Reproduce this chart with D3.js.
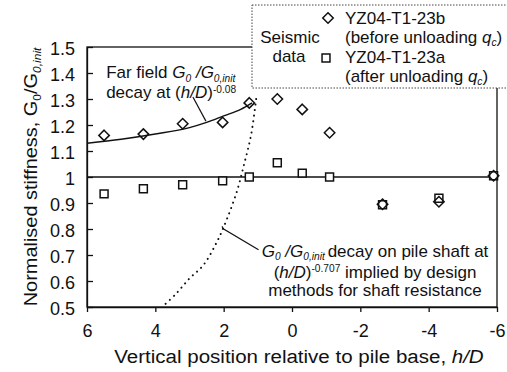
<!DOCTYPE html>
<html>
<head>
<meta charset="utf-8">
<script src="https://cdn.jsdelivr.net/npm/d3@7"></script>
<style>
  body { margin: 0; background: #fff; }
  svg text { font-family: "Liberation Sans", Arial, sans-serif; fill: #111; }
</style>
</head>
<body>
<div id="chart"></div>
<script>
// data
const hOverD = [5.5, 4.35, 3.2, 2.03, 1.25, 0.43, -0.3, -1.1, -2.65, -4.3, -5.9];
const beforeUnloading = [1.16, 1.165, 1.205, 1.21, 1.285, 1.30, 1.26, 1.17, 0.895, 0.905, 1.005]; // YZ04-T1-23b
const afterUnloading = [0.935, 0.955, 0.97, 0.985, 1.0, 1.055, 1.015, 1.0, 0.893, 0.918, 1.005]; // YZ04-T1-23a

// far field decay curve (h/D)^-0.08
const farFieldHD = [6, 5, 4, 3, 2.5, 2, 1.5, 1.17];
const farFieldG = [1.13, 1.145, 1.165, 1.19, 1.21, 1.235, 1.26, 1.285];

// shaft decay curve (h/D)^-0.707
const shaftHD = [1.05, 1.2, 1.4, 1.6, 1.9, 2.2, 2.6, 3.0, 3.4, 3.8];
const shaftG = [1.30, 1.16, 1.05, 0.95, 0.84, 0.75, 0.66, 0.61, 0.55, 0.50];

const xTicks = [6, 4, 2, 0, -2, -4, -6];
const yTicks = [0.5, 0.6, 0.7, 0.8, 0.9, 1, 1.1, 1.2, 1.3, 1.4, 1.5];

const width = 507;
const height = 372;
const margin = { top: 47, right: 10, bottom: 65, left: 87 };

const svg = d3.select("#chart")
    .append("svg")
    .attr("width", width)
    .attr("height", height);

const x = d3.scaleLinear().domain([6, -6]).range([margin.left, width - margin.right]);
const y = d3.scaleLinear().domain([0.5, 1.5]).range([height - margin.bottom, margin.top]);

// writes a line made of plain / italic / sub / super pieces
function rich(sel, parts, size) {
    let shift = 0;
    parts.forEach(p => {
        const want = p.sub ? size * 0.2 : p.sup ? -size * 0.35 : 0;
        const ts = sel.append("tspan").text(p.t).attr("dy", want - shift);
        shift = want;
        if (p.sub || p.sup) ts.attr("font-size", size * 0.6);
        if (p.i) ts.attr("font-style", "italic");
    });
}

// frame
svg.append("rect")
    .attr("x", x(6)).attr("y", y(1.5))
    .attr("width", x(-6) - x(6)).attr("height", y(0.5) - y(1.5))
    .attr("fill", "none").attr("stroke", "#111").attr("stroke-width", 1.3);

// axes
const xAxis = svg.append("g")
    .attr("transform", `translate(0,${y(0.5)})`)
    .call(d3.axisBottom(x).tickValues(xTicks).tickFormat(d => String(d)).tickSize(5).tickSizeOuter(0).tickPadding(12));
const yAxis = svg.append("g")
    .attr("transform", `translate(${x(6)},0)`)
    .call(d3.axisLeft(y).tickValues(yTicks).tickFormat(d => String(d)).tickSize(-6).tickSizeOuter(0).tickPadding(12));
[xAxis, yAxis].forEach(a => {
    a.selectAll("path, line").attr("stroke", "#111").attr("stroke-width", 1.3);
    a.selectAll("text").attr("font-size", 18).style("fill", "#111");
});
yAxis.selectAll("text").attr("dy", "0.42em");

// reference line at 1
svg.append("line")
    .attr("x1", x(6)).attr("x2", x(-6))
    .attr("y1", y(1)).attr("y2", y(1))
    .attr("stroke", "#111").attr("stroke-width", 1.5);

// far field curve
svg.append("path")
    .datum(farFieldHD.map((h, i) => [h, farFieldG[i]]))
    .attr("d", d3.line().x(d => x(d[0])).y(d => y(d[1])).curve(d3.curveMonotoneX))
    .attr("fill", "none").attr("stroke", "#111").attr("stroke-width", 1.5);

// shaft decay curve (dotted)
svg.append("path")
    .datum(shaftHD.map((h, i) => [h, shaftG[i]]))
    .attr("d", d3.line().x(d => x(d[0])).y(d => y(d[1])).curve(d3.curveCatmullRom))
    .attr("fill", "none").attr("stroke", "#111").attr("stroke-width", 2)
    .attr("stroke-linecap", "round").attr("stroke-dasharray", "0.1,5.5");

// markers
const diamond = d3.symbol().type(d3.symbolDiamond2).size(70);
const square = d3.symbol().type(d3.symbolSquare2).size(80);

svg.append("g").selectAll("path")
    .data(hOverD.map((h, i) => [h, afterUnloading[i]]))
    .enter().append("path")
    .attr("transform", d => `translate(${x(d[0])},${y(d[1])})`)
    .attr("d", square)
    .attr("fill", "#fff").attr("stroke", "#111").attr("stroke-width", 1.5);

svg.append("g").selectAll("path")
    .data(hOverD.map((h, i) => [h, beforeUnloading[i]]))
    .enter().append("path")
    .attr("transform", d => `translate(${x(d[0])},${y(d[1])})`)
    .attr("d", diamond)
    .attr("fill", "none").attr("stroke", "#111").attr("stroke-width", 1.5);

// annotation: far field
svg.append("line")
    .attr("x1", x(2.9)).attr("y1", y(1.308))
    .attr("x2", x(2.52)).attr("y2", y(1.215))
    .attr("stroke", "#111").attr("stroke-width", 1.2);
const ff1 = svg.append("text").attr("x", x(5.44)).attr("y", y(1.379)).attr("font-size", 17);
rich(ff1, [{ t: "Far field " }, { t: "G", i: 1 }, { t: "0", sub: 1, i: 1 }, { t: " /", i: 1 }, { t: "G", i: 1 }, { t: "0,init", sub: 1, i: 1 }], 17);
const ff2 = svg.append("text").attr("x", x(5.44)).attr("y", y(1.302)).attr("font-size", 17);
rich(ff2, [{ t: "decay at (" }, { t: "h/D", i: 1 }, { t: ")" }, { t: "-0.08", sup: 1 }], 17);

// annotation: shaft decay
svg.append("path")
    .attr("d", d3.line()([[x(2.05), y(0.81)], [x(2.0), y(0.80)], [x(0.98), y(0.72)]]))
    .attr("fill", "none").attr("stroke", "#111").attr("stroke-width", 1.2);
const sh1 = svg.append("text").attr("x", x(-2.43)).attr("y", y(0.692)).attr("font-size", 17).attr("text-anchor", "middle");
rich(sh1, [{ t: "G", i: 1 }, { t: "0", sub: 1, i: 1 }, { t: " /", i: 1 }, { t: "G", i: 1 }, { t: "0,init ", sub: 1, i: 1 }, { t: "decay on pile shaft at" }], 17);
const sh2 = svg.append("text").attr("x", x(-2.43)).attr("y", y(0.612)).attr("font-size", 17).attr("text-anchor", "middle");
rich(sh2, [{ t: "(" }, { t: "h/D", i: 1 }, { t: ")" }, { t: "-0.707", sup: 1 }, { t: " implied by design" }], 17);
svg.append("text").attr("x", x(-2.43)).attr("y", y(0.544)).attr("font-size", 17).attr("text-anchor", "middle")
    .text("methods for shaft resistance");

// axis titles
const xt = svg.append("text")
    .attr("transform", `translate(299,363) scale(1.08,1)`)
    .attr("text-anchor", "middle").attr("font-size", 19);
rich(xt, [{ t: "Vertical position relative to pile base, " }, { t: "h/D", i: 1 }], 19);

const yt = svg.append("text")
    .attr("transform", `translate(37,177) rotate(-90) scale(1.05,1)`)
    .attr("text-anchor", "middle").attr("font-size", 19);
rich(yt, [{ t: "Normalised stiffness, " }, { t: "G" }, { t: "0", sub: 1 }, { t: "/" }, { t: "G" }, { t: "0,init", sub: 1, i: 1 }], 19);

// legend
const legend = svg.append("g");
legend.append("rect")
    .attr("x", 252).attr("y", 5).attr("width", 270).attr("height", 83)
    .attr("fill", "#fff").attr("stroke", "#444").attr("stroke-width", 1)
    .attr("stroke-dasharray", "1.5,1.5");
legend.append("text").attr("x", 290).attr("y", 43).attr("font-size", 17).attr("text-anchor", "middle").text("Seismic");
legend.append("text").attr("x", 289).attr("y", 62).attr("font-size", 17).attr("text-anchor", "middle").text("data");
legend.append("path").attr("transform", "translate(328,18)").attr("d", diamond)
    .attr("fill", "none").attr("stroke", "#111").attr("stroke-width", 1.5);
legend.append("path").attr("transform", "translate(326,58)").attr("d", square)
    .attr("fill", "none").attr("stroke", "#111").attr("stroke-width", 1.5);
legend.append("text").attr("x", 345).attr("y", 24).attr("font-size", 17).text("YZ04-T1-23b");
rich(legend.append("text").attr("x", 345).attr("y", 43).attr("font-size", 17),
    [{ t: "(before unloading " }, { t: "q", i: 1 }, { t: "c", sub: 1, i: 1 }, { t: ")" }], 17);
legend.append("text").attr("x", 345).attr("y", 63).attr("font-size", 17).text("YZ04-T1-23a");
rich(legend.append("text").attr("x", 345).attr("y", 82).attr("font-size", 17),
    [{ t: "(after unloading " }, { t: "q", i: 1 }, { t: "c", sub: 1, i: 1 }, { t: ")" }], 17);
</script>
</body>
</html>
